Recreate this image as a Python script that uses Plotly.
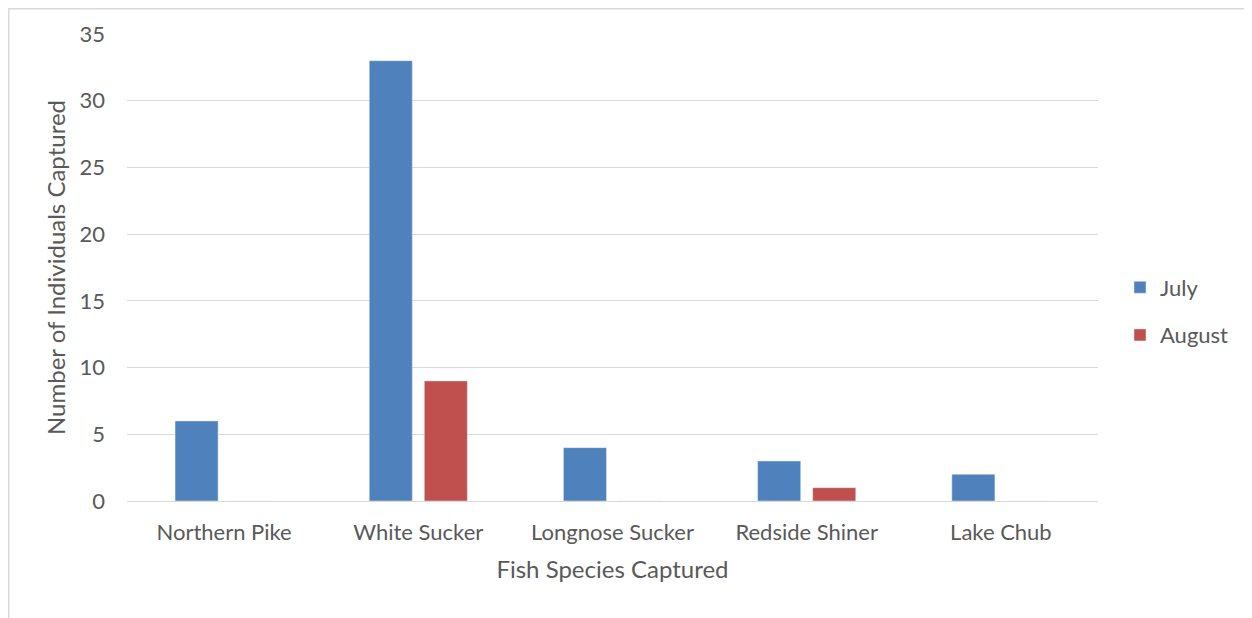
import plotly.graph_objects as go

species = ["Northern Pike", "White Sucker", "Longnose Sucker", "Redside Shiner", "Lake Chub"]
july = [6, 33, 4, 3, 2]
august = [0, 9, 0, 1, 0]
y_ticks = [0, 5, 10, 15, 20, 25, 30, 35]

# page body has an 8px margin, so the figure is offset by 8px
W, H = 1244, 610
L, T = 119, 26
pw, ph = 971, 467
R, B = W - L - pw, H - T - ph

fig = go.Figure()
fig.add_trace(go.Bar(name="July", x=species, y=july, marker_color="#4F81BD", legendgroup="a"))
fig.add_trace(go.Bar(name="August", x=species, y=august, marker_color="#C0504D", legendgroup="b"))

font_family = "Lato, 'Open Sans', sans-serif"
gray = "#595959"

def px_x(p):
    return (p - L) / pw

def px_y(p):
    return (H - B - p) / ph

fig.update_layout(
    width=W, height=H,
    margin=dict(l=L, r=R, t=T, b=B, pad=0),
    paper_bgcolor="white", plot_bgcolor="white",
    barmode="group", bargap=0.433, bargroupgap=0.218,
    font=dict(family=font_family, color=gray, size=22),
    xaxis=dict(
        showgrid=False, showline=True, linecolor="#D9D9D9", linewidth=1,
        ticks="", ticklabelstandoff=12, tickfont=dict(size=22, color=gray),
        title=dict(text="Fish Species Captured", font=dict(size=24, color=gray), standoff=16),
    ),
    yaxis=dict(
        range=[0, 35], tickvals=y_ticks, showgrid=True, gridcolor="#D9D9D9", gridwidth=1,
        zeroline=False, showline=False, ticks="", ticklabelstandoff=21,
        tickfont=dict(size=22, color=gray),
        title=dict(text="Number of Individuals Captured", font=dict(size=24, color=gray), standoff=7),
    ),
    legend=dict(
        x=px_x(1112), y=px_y(303.5), xanchor="left", yanchor="middle",
        font=dict(size=22, color=gray), tracegroupgap=16, itemwidth=30,
        bgcolor="rgba(0,0,0,0)",
    ),
    shapes=[dict(
        type="rect", xref="paper", yref="paper",
        x0=px_x(0.75), x1=px_x(1400), y0=px_y(0.75), y1=px_y(800),
        line=dict(color="#D9D9D9", width=1.5), fillcolor="rgba(0,0,0,0)", layer="below",
    )],
)

fig.write_html("out.html")
